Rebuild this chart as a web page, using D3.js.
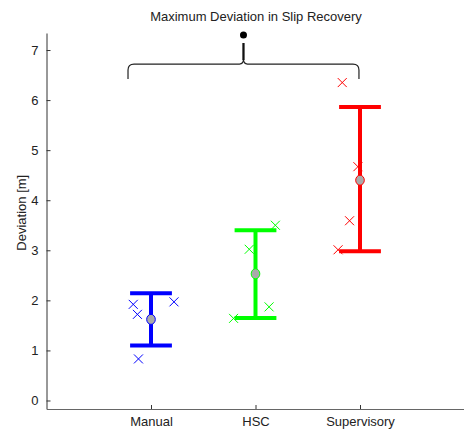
<!DOCTYPE html>
<html>
<head>
<meta charset="utf-8">
<script src="https://cdn.jsdelivr.net/npm/d3@7"></script>
<style>
  html, body { margin: 0; padding: 0; background: #fff; }
  svg { display: block; font-family: "Liberation Sans", Arial, sans-serif; }
</style>
</head>
<body>
<svg id="chart" width="464" height="431"></svg>
<script>
// Conditions and their summary statistics (deviation in metres)
const categories = ["Manual", "HSC", "Supervisory"];
const colors = ["#0000ff", "#00ff00", "#ff0000"];
const means = [1.62, 2.53, 4.40];
const upper = [2.14, 3.40, 5.86];
const lower = [1.10, 1.65, 2.98];

// Individual trials per condition, with their horizontal jitter offsets
const trialValues = [
  [1.92, 1.72, 1.97, 0.83],
  [3.50, 3.02, 1.87, 1.64],
  [6.35, 4.67, 3.59, 3.01]
];
const trialJitter = [
  [-0.17, -0.13, 0.22, -0.12],
  [0.19, -0.06, 0.13, -0.21],
  [-0.17, -0.02, -0.10, -0.21]
];

const yTicks = [0, 1, 2, 3, 4, 5, 6, 7];

// Significance bracket spanning Manual..Supervisory
const bracketX = [0.78, 2.99];
const bracketY = { end: 6.42, top: 6.72, tip: 7.14, dot: 7.30 };

const svg = d3.select("#chart");
const x = d3.scaleLinear().domain([0, 4]).range([46.5, 464.5]);
const y = d3.scaleLinear().domain([-0.17, 7.34]).range([409, 33]);

// Title
svg.append("text")
  .attr("x", 256).attr("y", 21)
  .attr("text-anchor", "middle")
  .attr("font-size", 13).attr("fill", "#222")
  .text("Maximum Deviation in Slip Recovery");

// Y axis
const yAxis = svg.append("g")
  .attr("transform", `translate(${x(0)},0)`)
  .call(d3.axisLeft(y).tickValues(yTicks).tickSize(-4).tickPadding(8).tickSizeOuter(0));
yAxis.select(".domain").attr("stroke", "#333");
yAxis.selectAll(".tick line").attr("stroke", "#333");
yAxis.selectAll(".tick text").attr("font-size", 13).attr("fill", "#222")
  .attr("font-family", "Liberation Sans, Arial, sans-serif");

// X axis
const xAxis = svg.append("g")
  .attr("transform", `translate(0,${y(-0.17)})`)
  .call(d3.axisBottom(x).tickValues([1, 2, 3])
    .tickFormat(d => categories[d - 1]).tickSize(-4).tickPadding(8).tickSizeOuter(0));
xAxis.select(".domain").attr("stroke", "#666");
xAxis.selectAll(".tick line").attr("stroke", "#333");
xAxis.selectAll(".tick text").attr("font-size", 13).attr("fill", "#222")
  .attr("font-family", "Liberation Sans, Arial, sans-serif");

// Y label
svg.append("text")
  .attr("transform", `translate(26,${y(3.75)}) rotate(-90)`)
  .attr("text-anchor", "middle")
  .attr("font-size", 13).attr("fill", "#222")
  .text("Deviation [m]");

// Error bars, trial crosses and means
const capHalf = 0.2;
const cs = 4.5;
categories.forEach((cat, i) => {
  const g = svg.append("g");
  const cx = i + 1;
  const col = colors[i];
  g.append("line")
    .attr("x1", x(cx)).attr("x2", x(cx))
    .attr("y1", y(lower[i])).attr("y2", y(upper[i]))
    .attr("stroke", col).attr("stroke-width", 4);
  [lower[i], upper[i]].forEach(v => {
    g.append("line")
      .attr("x1", x(cx - capHalf)).attr("x2", x(cx + capHalf))
      .attr("y1", y(v)).attr("y2", y(v))
      .attr("stroke", col).attr("stroke-width", 4);
  });
  trialValues[i].forEach((v, j) => {
    const px = x(cx + trialJitter[i][j]);
    const py = y(v);
    g.append("path")
      .attr("d", `M${px - cs},${py - cs}L${px + cs},${py + cs}M${px - cs},${py + cs}L${px + cs},${py - cs}`)
      .attr("stroke", col).attr("stroke-width", 1).attr("fill", "none");
  });
  g.append("ellipse")
    .attr("cx", x(cx)).attr("cy", y(means[i]))
    .attr("rx", 4.3).attr("ry", 5)
    .attr("fill", "#aaaaaa").attr("stroke", col).attr("stroke-width", 1);
});

// Curly bracket with significance marker
const xl = x(bracketX[0]), xr = x(bracketX[1]), xm = (xl + xr) / 2;
const yEnd = y(bracketY.end), yTop = y(bracketY.top), yTip = y(bracketY.tip);
const r = 4;
const bracePath = [
  `M${xl},${yEnd}`,
  `L${xl},${yTop + r + 2}`,
  `Q${xl},${yTop} ${xl + r + 2},${yTop}`,
  `L${xm - 4},${yTop}`,
  `Q${xm},${yTop} ${xm},${yTop - 5}`,
  `L${xm},${yTip}`,
  `M${xm},${yTop - 5}`,
  `Q${xm},${yTop} ${xm + 4},${yTop}`,
  `L${xr - r - 2},${yTop}`,
  `Q${xr},${yTop} ${xr},${yTop + r + 2}`,
  `L${xr},${yEnd}`
].join("");
svg.append("path")
  .attr("d", bracePath)
  .attr("fill", "none").attr("stroke", "#222").attr("stroke-width", 1.2);
svg.append("path")
  .attr("d", `M${xm},${yTop - 4}L${xm},${yTip}`)
  .attr("stroke", "#111").attr("stroke-width", 2.2);
svg.append("circle")
  .attr("cx", xm).attr("cy", y(bracketY.dot))
  .attr("r", 3.5).attr("fill", "#000");
</script>
</body>
</html>
